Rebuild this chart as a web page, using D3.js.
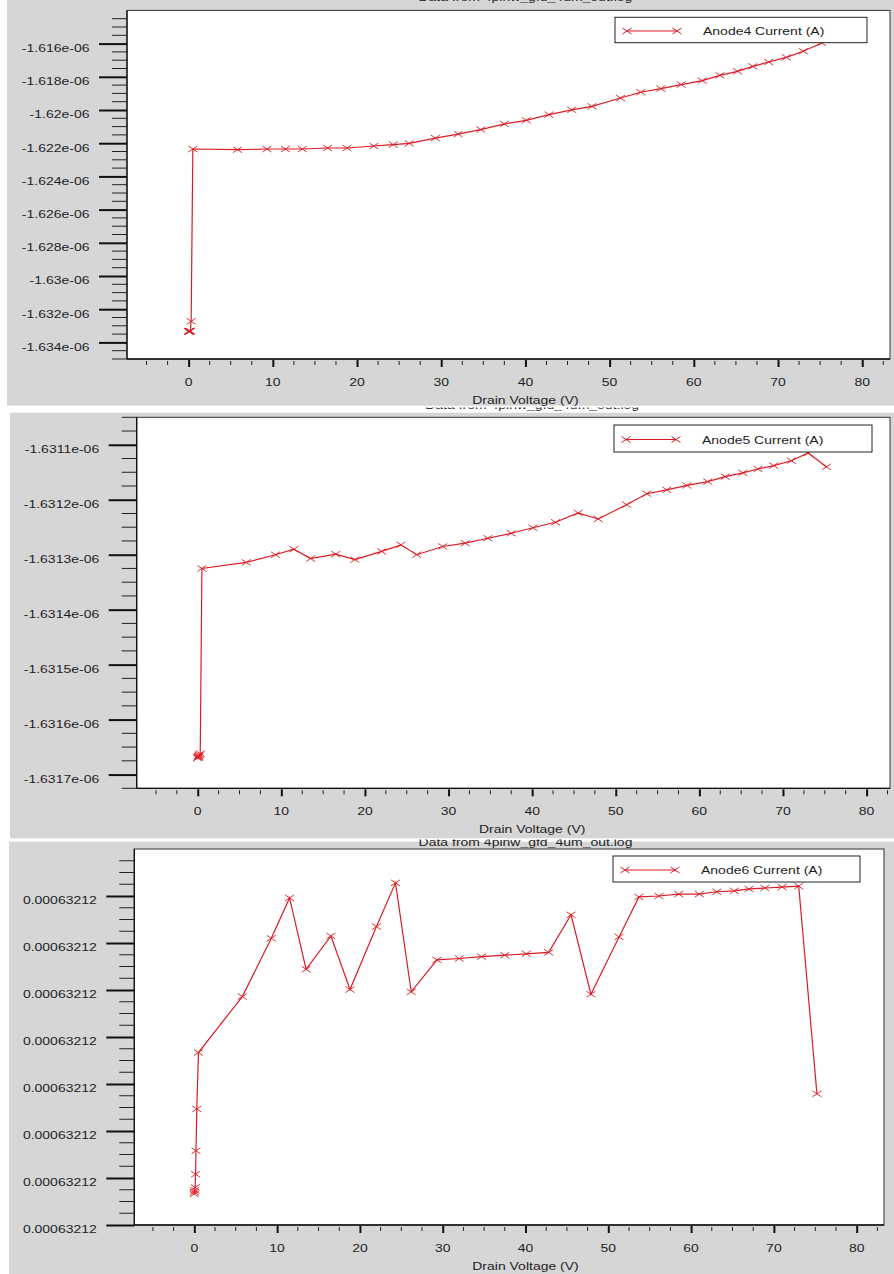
<!DOCTYPE html>
<html><head><meta charset="utf-8">
<script src="https://cdn.jsdelivr.net/npm/d3@7"></script>
<style>
html,body{margin:0;padding:0;background:#fff;}
svg{display:block;}
text{font-family:"Liberation Sans",Arial,Helvetica,sans-serif;font-size:10px;fill:#1e1e1e;}
</style>
</head><body>
<svg id="chart" width="894" height="1274"></svg>
<script>
// ---------------- data ----------------
const drainVoltage = [0, 0.02, 0.05, 0.1, 0.15, 0.2, 0.3, 0.5, 5.8, 9.3, 11.5, 13.5, 16.5, 18.8, 22.0, 24.3, 26.2, 29.3, 32.0, 34.7, 37.5, 40.1, 42.8, 45.5, 47.9, 51.3, 53.7, 56.1, 58.5, 61.0, 63.1, 65.2, 67.0, 68.9, 71.0, 73.0, 75.2];

// Anode4 current, in units of 1e-6 A
const anode4Current = [-1.63334, -1.63334, -1.63333, -1.63333, -1.63333, -1.63332, -1.63273, -1.62235, -1.62239, -1.62235, -1.62235, -1.62235, -1.62229, -1.62229, -1.62217, -1.62208, -1.62201, -1.62169, -1.62145, -1.62118, -1.62084, -1.62062, -1.62028, -1.61999, -1.61978, -1.61928, -1.61893, -1.61871, -1.61847, -1.61823, -1.61791, -1.61767, -1.61737, -1.61711, -1.61683, -1.61646, -1.61596];

// Anode5 current, in units of 1e-6 A
const anode5Current = [-1.631670, -1.631669, -1.631668, -1.631667, -1.631666, -1.631664, -1.631662, -1.631325, -1.631314, -1.631300, -1.631290, -1.631307, -1.631299, -1.631309, -1.631294, -1.631282, -1.631300, -1.631285, -1.631279, -1.631270, -1.631261, -1.631251, -1.631241, -1.631224, -1.631235, -1.631209, -1.631189, -1.631182, -1.631174, -1.631167, -1.631158, -1.631151, -1.631144, -1.631138, -1.631129, -1.631115, -1.631140];

// Anode6 current = base + offset (offset in pA)
const anode6Base = 6.3212e-4;
const anode6OffsetPA = [0.66, 0.70, 0.74, 0.80, 1.08, 1.58, 2.47, 3.67, 4.86, 6.10, 6.96, 5.44, 6.15, 5.01, 6.35, 7.28, 4.96, 5.64, 5.67, 5.71, 5.74, 5.77, 5.80, 6.60, 4.91, 6.13, 6.98, 7.00, 7.04, 7.04, 7.09, 7.11, 7.15, 7.17, 7.19, 7.21, 2.79];

const xTickValues = [0, 10, 20, 30, 40, 50, 60, 70, 80];
const xTickLabels = ["0", "10", "20", "30", "40", "50", "60", "70", "80"];

const anode4TickValues = [-1.634, -1.632, -1.630, -1.628, -1.626, -1.624, -1.622, -1.620, -1.618, -1.616];
const anode4TickLabels = ["-1.634e-06", "-1.632e-06", "-1.63e-06", "-1.628e-06", "-1.626e-06", "-1.624e-06", "-1.622e-06", "-1.62e-06", "-1.618e-06", "-1.616e-06"];

const anode5TickValues = [-1.6317, -1.6316, -1.6315, -1.6314, -1.6313, -1.6312, -1.6311];
const anode5TickLabels = ["-1.6317e-06", "-1.6316e-06", "-1.6315e-06", "-1.6314e-06", "-1.6313e-06", "-1.6312e-06", "-1.6311e-06"];

const anode6TickOffsetsPA = [0, 1, 2, 3, 4, 5, 6, 7];
const anode6TickLabels = ["0.00063212", "0.00063212", "0.00063212", "0.00063212", "0.00063212", "0.00063212", "0.00063212", "0.00063212"];

const seriesNames = ["Anode4 Current (A)", "Anode5 Current (A)", "Anode6 Current (A)"];
const chartTitle = "Data from 4pinw_gfd_4um_out.log";
const xAxisTitle = "Drain Voltage (V)";

// ---------------- layout ----------------
const RED = "#dc1c24";
const GRAY = "#d6d6d6";
const SX = 1.4; // horizontal text stretch

const panels = [
  {
    bg: [7, 0, 887, 405.7],
    plot: {l: 127, r: 890, t: 10.4, b: 359},
    xDomain: [-7.32, 83.3],
    yDomain: [-1.635, -1.614],
    minorStep: 0.0005,
    ySeries: anode4Current,
    tickValues: anode4TickValues, tickLabels: anode4TickLabels,
    name: seriesNames[0],
    titleY: 1.2, titleClip: [0, 6],
    legend: {x: 615, y: 17.3, w: 252, h: 25.4}
  },
  {
    bg: [10, 412.7, 884, 425.6],
    plot: {l: 136.7, r: 890, t: 417.3, b: 788.3},
    xDomain: [-7.30, 82.8],
    yDomain: [-1.631725, -1.63105],
    minorStep: 0.000025,
    ySeries: anode5Current,
    tickValues: anode5TickValues, tickLabels: anode5TickLabels,
    name: seriesNames[1],
    titleY: 409.3, titleClip: [407.5, 412.7],
    legend: {x: 614, y: 425, w: 258, h: 27}
  },
  {
    bg: [9, 841.7, 885, 432.3],
    plot: {l: 134.3, r: 884, t: 849, b: 1225},
    xDomain: [-7.25, 83.3],
    yDomain: [0, 8],
    minorStep: 0.25,
    ySeries: anode6OffsetPA,
    tickValues: anode6TickOffsetsPA, tickLabels: anode6TickLabels,
    name: seriesNames[2],
    titleY: 845.5, titleClip: [839.5, 849],
    legend: {x: 613, y: 856, w: 247, h: 26}
  }
];

const svg = d3.select("#chart");
const defs = svg.append("defs");

function stretchedText(g, x, y, str, anchor) {
  return g.append("text")
    .attr("transform", `translate(${x},${y}) scale(${SX},1)`)
    .attr("text-anchor", anchor || "start")
    .text(str);
}

function xMarker(g, cx, cy, sw) {
  g.append("path")
    .attr("d", `M${cx - 4.5},${cy - 3}L${cx + 4.5},${cy + 3}M${cx - 4.5},${cy + 3}L${cx + 4.5},${cy - 3}`)
    .attr("stroke", RED).attr("stroke-width", sw || 1).attr("fill", "none");
}

panels.forEach((p, pi) => {
  const g = svg.append("g");
  const P = p.plot;
  g.append("rect").attr("x", p.bg[0]).attr("y", p.bg[1]).attr("width", p.bg[2]).attr("height", p.bg[3]).attr("fill", GRAY);

  const x = d3.scaleLinear().domain(p.xDomain).range([P.l, P.r]);
  const y = d3.scaleLinear().domain(p.yDomain).range([P.b, P.t]);

  // clipped title (only partly visible in the reference)
  const cid = "tclip" + pi;
  defs.append("clipPath").attr("id", cid).append("rect")
    .attr("x", 0).attr("y", p.titleClip[0]).attr("width", 894).attr("height", p.titleClip[1] - p.titleClip[0]);
  const tg = g.append("g").attr("clip-path", `url(#${cid})`);
  stretchedText(tg, x(40), p.titleY, chartTitle, "middle");

  // plot area
  g.append("rect").attr("x", P.l).attr("y", P.t).attr("width", P.r - P.l).attr("height", P.b - P.t).attr("fill", "#fff");

  const pts = drainVoltage.map((v, i) => [v, p.ySeries[i]]);
  const line = d3.line().x(d => x(d[0])).y(d => y(d[1]));
  g.append("path").datum(pts).attr("d", line).attr("fill", "none").attr("stroke", RED).attr("stroke-width", 1.2);
  pts.forEach(d => xMarker(g, x(d[0]), y(d[1]), 0.9));

  // legend
  const L = p.legend;
  g.append("rect").attr("x", L.x).attr("y", L.y).attr("width", L.w).attr("height", L.h)
    .attr("fill", "#fff").attr("stroke", "#222").attr("stroke-width", 1);
  const ly = L.y + L.h / 2 + 1;
  g.append("line").attr("x1", L.x + 12).attr("x2", L.x + 62).attr("y1", ly).attr("y2", ly).attr("stroke", RED).attr("stroke-width", 1.2);
  xMarker(g, L.x + 12, ly, 1);
  xMarker(g, L.x + 62, ly, 1);
  stretchedText(g, L.x + 88, ly + 4, p.name, "start");

  // frame
  g.append("rect").attr("x", P.l).attr("y", P.t).attr("width", P.r - P.l).attr("height", P.b - P.t)
    .attr("fill", "none").attr("stroke", "#333").attr("stroke-width", 1);
  g.append("line").attr("x1", P.l).attr("x2", P.l).attr("y1", P.t).attr("y2", P.b).attr("stroke", "#111").attr("stroke-width", 1.3);
  g.append("line").attr("x1", P.l).attr("x2", P.r).attr("y1", P.b).attr("y2", P.b).attr("stroke", "#111").attr("stroke-width", 1.3);

  // y ticks
  const yAxis = d3.axisLeft(y).tickValues(p.tickValues).tickFormat((d, i) => p.tickLabels[i]).tickSize(28).tickPadding(0);
  const ya = g.append("g").attr("transform", `translate(${P.l},0)`).call(yAxis);
  ya.select(".domain").remove();
  ya.selectAll(".tick line").attr("stroke", "#111").attr("stroke-width", 2);
  ya.selectAll(".tick text").remove();
  p.tickValues.forEach((v, i) => {
    stretchedText(g, P.l - 37.5, y(v) + 8.3, p.tickLabels[i], "end");
  });
  // y minor ticks
  const s = p.minorStep;
  const i0 = Math.ceil(p.yDomain[0] / s - 1e-6), i1 = Math.floor(p.yDomain[1] / s + 1e-6);
  const yMinor = [];
  for (let k = i0; k <= i1; k++) { if (((k % 4) + 4) % 4 !== 0) yMinor.push(k * s); }
  g.selectAll(null).data(yMinor).enter().append("line")
    .attr("x1", P.l - 15).attr("x2", P.l).attr("y1", d => y(d)).attr("y2", d => y(d))
    .attr("stroke", "#222").attr("stroke-width", 1);

  // x ticks
  const xAxis = d3.axisBottom(x).tickValues(xTickValues).tickFormat((d, i) => xTickLabels[i]).tickSize(7).tickPadding(0);
  const xa = g.append("g").attr("transform", `translate(0,${P.b + 1})`).call(xAxis);
  xa.select(".domain").remove();
  xa.selectAll(".tick line").attr("stroke", "#111").attr("stroke-width", 2);
  xa.selectAll(".tick text").remove();
  xTickValues.forEach((v, i) => stretchedText(g, x(v), P.b + 27, xTickLabels[i], "middle"));
  const xMinor = [];
  for (let k = Math.ceil(p.xDomain[0] / 2.5); k <= Math.floor(p.xDomain[1] / 2.5); k++) { if (k % 4 !== 0) xMinor.push(k * 2.5); }
  g.selectAll(null).data(xMinor).enter().append("line")
    .attr("x1", d => x(d)).attr("x2", d => x(d)).attr("y1", P.b + 2).attr("y2", P.b + 6)
    .attr("stroke", "#222").attr("stroke-width", 1);

  // x axis title
  stretchedText(g, x(40), P.b + 44.5, xAxisTitle, "middle");
});
</script>
</body></html>
